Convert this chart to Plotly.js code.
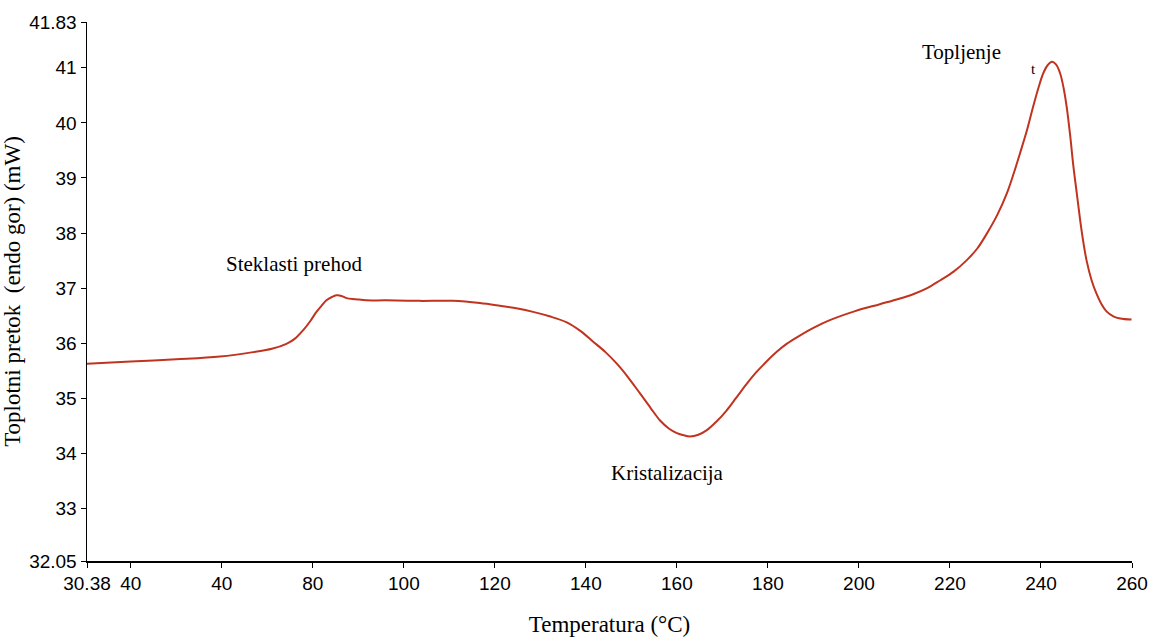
<!DOCTYPE html>
<html>
<head>
<meta charset="utf-8">
<script src="https://cdn.plot.ly/plotly-3.0.1.min.js"></script>
<style>html,body{margin:0;padding:0;background:#fff;}#chart{width:1159px;height:641px;}</style>
</head>
<body>
<div id="chart"></div>
<script>
const temperature = [30.38, 40, 50, 59.6, 66.9, 71, 74.2, 76, 77.9, 79.5, 80.8, 82, 83, 84.2, 85.2, 86.3, 87.4, 89.5, 91.8, 96, 103.5, 110.8, 116.7, 121.1, 125, 128.4, 132, 135.8, 138.7, 141.6, 144.3, 146.8, 149.4, 151.9, 154.2, 156.3, 158.3, 160, 161.5, 162.9, 164.7, 166.5, 168.7, 170.9, 173.1, 175.3, 177.5, 179.7, 182, 184.1, 187, 190, 193.6, 199, 204.6, 208.5, 211.9, 215, 217.8, 220.8, 223.7, 226, 228.1, 230.4, 232.5, 234, 235.4, 236.9, 238.3, 239.5, 240.5, 241.5, 242.4, 243.3, 244.2, 245, 245.7, 246.4, 247.1, 247.9, 248.6, 249.3, 250, 251.1, 252.2, 253.3, 254.4, 255.9, 257.4, 259.9];
const heatFlow = [35.63, 35.67, 35.71, 35.76, 35.84, 35.9, 35.99, 36.08, 36.24, 36.41, 36.57, 36.69, 36.78, 36.84, 36.87, 36.86, 36.82, 36.8, 36.78, 36.78, 36.77, 36.77, 36.73, 36.68, 36.63, 36.57, 36.49, 36.38, 36.23, 36.03, 35.84, 35.63, 35.37, 35.09, 34.83, 34.6, 34.45, 34.37, 34.33, 34.31, 34.34, 34.42, 34.58, 34.78, 35.02, 35.26, 35.48, 35.67, 35.85, 35.99, 36.14, 36.28, 36.42, 36.58, 36.71, 36.8, 36.89, 37.0, 37.14, 37.3, 37.51, 37.72, 37.99, 38.33, 38.72, 39.08, 39.45, 39.86, 40.3, 40.65, 40.9, 41.05, 41.11, 41.06, 40.9, 40.62, 40.26, 39.78, 39.23, 38.7, 38.24, 37.84, 37.51, 37.15, 36.9, 36.71, 36.58, 36.49, 36.45, 36.43];

const xTickVals = [30.38, 40, 60, 80, 100, 120, 140, 160, 180, 200, 220, 240, 260];
const xTickText = ['30.38', '40', '40', '80', '100', '120', '140', '160', '180', '200', '220', '240', '260'];
const yTickVals = [32.05, 33, 34, 35, 36, 37, 38, 39, 40, 41, 41.83];
const yTickText = ['32.05', '33', '34', '35', '36', '37', '38', '39', '40', '41', '41.83'];

const labelTexts = ['Steklasti prehod', 'Kristalizacija', 'Topljenje', 't'];
const labelX = [75.9, 158.0, 222.6, 238.4];
const labelY = [37.44, 33.64, 41.29, 40.98];

const trace = {
  x: temperature,
  y: heatFlow,
  type: 'scatter',
  mode: 'lines',
  line: {color: '#c0341f', width: 2, shape: 'spline', smoothing: 1},
  hoverinfo: 'skip'
};

const serif = 'Liberation Serif';
const sans = 'Liberation Sans';
const annotations = labelTexts.map((t, i) => ({
  x: labelX[i], y: labelY[i], xref: 'x', yref: 'y',
  text: t, showarrow: false,
  font: {family: serif, size: i === 3 ? 15 : 21, color: '#000'}
}));

const layout = {
  width: 1159, height: 641,
  margin: {l: 87, r: 27, t: 22, b: 80},
  paper_bgcolor: '#fff', plot_bgcolor: '#fff',
  showlegend: false,
  font: {family: sans, size: 19, color: '#000'},
  xaxis: {
    range: [30.38, 260], autorange: false,
    tickmode: 'array', tickvals: xTickVals, ticktext: xTickText,
    showline: true, linecolor: '#000', linewidth: 1.5,
    ticks: 'outside', ticklen: 5, tickcolor: '#000', tickwidth: 1,
    showgrid: false, zeroline: false,
    tickfont: {family: sans, size: 19, color: '#000'},
    title: {text: 'Temperatura (°C)', font: {family: serif, size: 23, color: '#000'}, standoff: 22}
  },
  yaxis: {
    range: [32.05, 41.83], autorange: false,
    tickmode: 'array', tickvals: yTickVals, ticktext: yTickText,
    showline: true, linecolor: '#000', linewidth: 1.5,
    ticks: 'outside', ticklen: 5, tickcolor: '#000', tickwidth: 1,
    showgrid: false, zeroline: false,
    tickfont: {family: sans, size: 19, color: '#000'},
    title: {text: 'Toplotni pretok  (endo gor) (mW)', font: {family: serif, size: 23, color: '#000'}, standoff: 4}
  },
  annotations: annotations
};

Plotly.newPlot('chart', [trace], layout, {displayModeBar: false, staticPlot: true});
</script>
</body>
</html>
